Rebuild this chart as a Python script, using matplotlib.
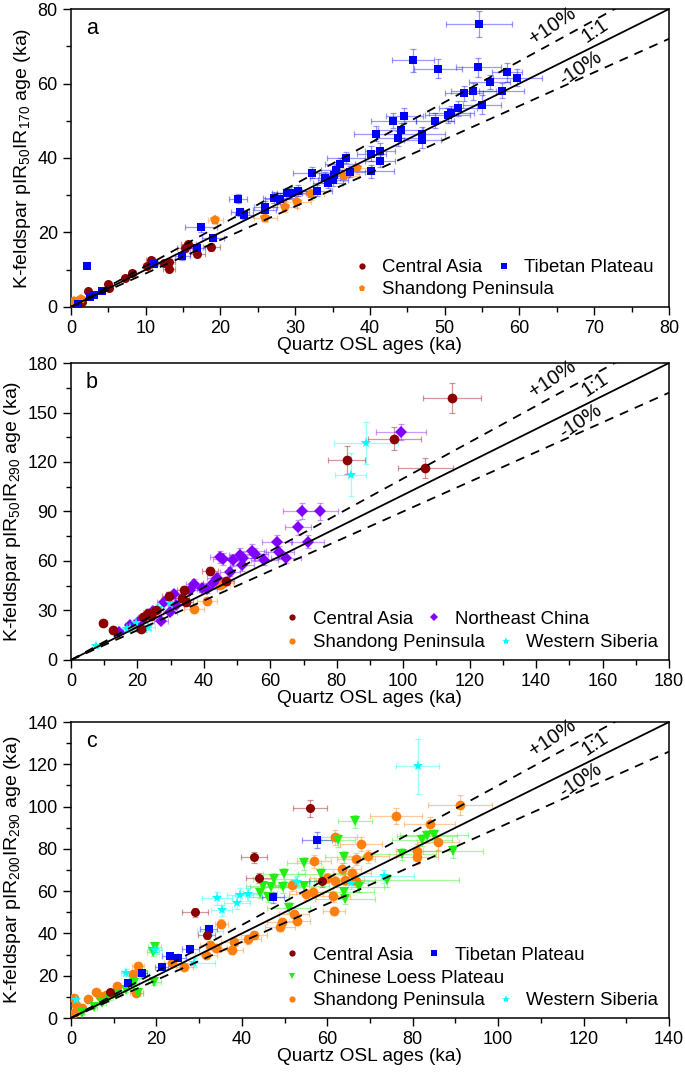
"""Quartz OSL vs K-feldspar pIRIR ages, three panels."""

import numpy as np
import matplotlib
matplotlib.use("Agg")
import matplotlib.pyplot as plt
from matplotlib.lines import Line2D
from matplotlib.ticker import MultipleLocator

plt.rcParams["font.family"] = ["Liberation Sans", "DejaVu Sans"]
plt.rcParams["mathtext.fontset"] = "custom"
plt.rcParams["mathtext.rm"] = "Liberation Sans"
plt.rcParams["mathtext.it"] = "Liberation Sans:italic"

C_CA = "#8b0000"
C_TP = "#0000ff"
C_SP = "#ff7f0e"
C_NE = "#8000ff"
C_CLP = "#22ee11"
C_WS = "#00ffff"

# ---------------- panel a: pIR50IR170 ----------------
a_tp_x = [54.6, 45.8, 49.1, 54.5, 58.3, 59.7, 56.0, 52.6, 53.8, 57.6, 55.0, 51.8, 50.9, 50.4,
          48.7, 44.6, 43.1, 44.1, 40.8, 43.8, 47.0, 47.0, 40.2, 41.4, 41.4, 40.2, 36.8, 36.0,
          37.3, 35.5, 35.2, 34.0, 34.4, 35.1, 32.2, 32.9, 30.4, 29.5, 28.9, 28.0, 27.2, 26.0,
          25.9, 22.3, 22.6, 23.2, 17.4, 19.0, 16.9, 14.9, 11.1, 2.1, 4.1, 3.1, 1.0, 2.6]
a_tp_y = [76.0, 66.2, 64.0, 64.3, 63.0, 61.6, 60.4, 57.4, 57.9, 58.1, 54.3, 53.3, 52.0, 51.5,
          50.0, 51.4, 50.0, 47.4, 46.5, 45.3, 46.4, 44.8, 41.1, 42.0, 39.2, 36.4, 40.1, 38.4,
          36.3, 36.7, 35.4, 34.7, 33.4, 34.1, 36.1, 31.2, 31.2, 30.7, 30.5, 29.1, 29.3, 26.9,
          26.0, 29.1, 25.5, 24.7, 21.4, 18.6, 15.7, 13.6, 11.4, 11.0, 4.3, 3.1, 0.7, 2.7]
a_tp_xe = [4.4, 2.8, 3.2, 3.0, 2.0, 3.3, 2.8, 2.5, 3.0, 3.0, 2.5, 2.5, 3.0, 3.0,
           2.5, 2.5, 3.0, 3.0, 3.0, 3.0, 3.0, 2.5, 2.0, 2.0, 2.0, 3.0, 2.5, 2.0,
           2.0, 2.0, 2.0, 2.0, 2.0, 2.0, 2.5, 2.0, 2.0, 2.0, 2.0, 2.0, 1.5, 1.5,
           1.5, 1.2, 1.2, 1.2, 2.2, 1.5, 1.0, 1.0, 0.8, 0.3, 0.4, 0.3, 0.2, 0.3]
a_tp_ye = [3.4, 3.0, 2.5, 2.5, 2.5, 2.2, 2.0, 2.0, 2.2, 2.0, 2.5, 2.0, 2.0, 2.0,
           2.0, 2.0, 2.0, 2.0, 2.0, 2.0, 2.0, 2.0, 2.0, 2.0, 1.5, 1.8, 1.5, 1.5,
           1.5, 1.5, 1.5, 1.5, 1.5, 1.5, 1.5, 1.5, 1.5, 1.5, 1.5, 1.5, 1.5, 1.5,
           1.2, 1.2, 1.2, 1.2, 1.2, 1.0, 1.0, 1.0, 0.8, 0.5, 0.3, 0.3, 0.2, 0.3]

a_ca_x = [18.8, 16.9, 15.7, 15.2, 13.1, 13.1, 12.4, 10.7, 10.2, 8.2, 7.2, 5.0, 5.1, 2.3, 1.5, 0.4]
a_ca_y = [16.1, 14.3, 16.8, 15.7, 10.1, 12.1, 11.8, 12.6, 11.1, 9.1, 7.8, 6.1, 5.2, 4.2, 1.3, 0.7]
a_ca_xe = [1.2, 1.0, 1.0, 1.0, 0.8, 0.8, 0.8, 0.6, 0.6, 0.5, 0.4, 0.3, 0.3, 0.2, 0.1, 0.1]
a_ca_ye = [1.0, 1.0, 1.0, 1.0, 0.8, 0.8, 0.8, 0.7, 0.7, 0.5, 0.5, 0.4, 0.4, 0.3, 0.1, 0.1]

a_sp_x = [38.3, 36.5, 32.1, 30.3, 28.6, 26.0, 19.3, 0.4, 1.4]
a_sp_y = [37.2, 35.2, 30.2, 28.2, 26.9, 24.0, 23.3, 1.6, 2.2]
a_sp_xe = [2.0, 2.0, 1.8, 1.8, 1.6, 1.5, 1.0, 0.1, 0.1]
a_sp_ye = [1.5, 1.5, 1.5, 1.5, 1.5, 1.2, 1.0, 0.1, 0.1]

# ---------------- panel b: pIR50IR290 ----------------
b_ca_x = [114.7, 97.3, 83.0, 106.7, 41.9, 46.7, 9.7, 12.6, 34.0, 33.4, 29.4, 25.7, 24.1, 21.7,
          21.2, 23.2, 34.6]
b_ca_y = [158.8, 134.1, 121.4, 116.3, 54.0, 47.9, 22.5, 18.2, 42.3, 37.4, 39.0, 30.3, 26.9, 26.3,
          18.8, 28.3, 35.4]
b_ca_xe = [8.8, 8.0, 5.5, 8.2, 2.5, 2.5, 1.0, 1.0, 2.0, 2.0, 2.0, 1.5, 1.5, 1.5,
           1.5, 1.5, 2.0]
b_ca_ye = [9.0, 7.0, 8.6, 6.0, 2.5, 2.5, 1.5, 1.2, 2.5, 2.0, 2.0, 1.8, 1.5, 1.5,
           1.2, 1.5, 2.0]

b_ne_x = [99.3, 69.4, 74.9, 68.3, 71.3, 62.0, 62.6, 64.6, 58.2, 54.6, 55.3, 51.0, 51.7, 48.9,
          44.9, 45.8, 51.5, 47.9, 44.0, 42.8, 40.9, 37.1, 35.9, 31.0, 28.0, 31.6, 27.1, 24.7,
          22.0, 17.8, 14.4, 20.2, 29.8, 39.5]
b_ne_y = [138.3, 90.2, 90.0, 80.3, 71.8, 71.6, 65.3, 62.1, 60.9, 66.1, 64.1, 63.7, 61.7, 60.5,
          62.5, 61.3, 57.6, 53.6, 49.6, 46.7, 43.1, 46.3, 42.3, 39.8, 35.4, 33.4, 23.7, 29.7,
          25.3, 21.2, 16.8, 23.3, 29.3, 43.5]
b_ne_xe = [7.5, 5.5, 5.5, 4.0, 5.0, 4.5, 4.5, 4.5, 4.0, 4.0, 4.0, 3.5, 3.5, 3.5,
           3.0, 3.0, 3.5, 3.0, 3.0, 3.0, 3.0, 2.5, 2.5, 2.5, 2.0, 2.5, 2.0, 2.0,
           1.5, 1.5, 1.2, 1.5, 2.0, 2.5]
b_ne_ye = [5.0, 5.0, 5.0, 4.5, 4.0, 4.0, 4.0, 3.5, 3.5, 4.0, 4.0, 4.0, 3.5, 3.5,
           3.5, 3.5, 3.5, 3.0, 3.0, 3.0, 2.5, 2.5, 2.5, 2.5, 2.0, 2.0, 1.5, 2.0,
           1.5, 1.5, 1.2, 1.5, 2.0, 2.5]

b_sp_x = [40.9, 37.1, 44.8, 45.7, 17.8]
b_sp_y = [35.8, 30.7, 45.5, 46.5, 20.8]
b_sp_xe = [3.0, 3.0, 3.0, 3.0, 1.5]
b_sp_ye = [2.5, 2.0, 2.5, 2.5, 1.5]

b_ws_x = [88.8, 84.2, 7.6, 22.0, 23.3, 17.8, 16.8, 19.6, 29.8, 26.2]
b_ws_y = [131.5, 112.3, 8.5, 18.8, 20.2, 19.6, 18.8, 22.2, 34.4, 31.4]
b_ws_xe = [9.7, 4.6, 0.8, 2.0, 2.0, 1.5, 1.5, 1.8, 2.5, 2.0]
b_ws_ye = [13.0, 13.0, 0.8, 2.0, 2.0, 1.8, 1.8, 2.0, 3.0, 2.5]

# ---------------- panel c: pIR200IR290 ----------------
c_ca_x = [56.0, 42.9, 44.0, 29.0, 31.8, 58.8, 9.2]
c_ca_y = [99.2, 76.0, 66.2, 50.0, 39.5, 64.7, 12.5]
c_ca_xe = [4.0, 3.0, 3.0, 3.0, 2.0, 3.0, 0.8]
c_ca_ye = [4.0, 2.5, 2.5, 2.0, 2.0, 2.5, 1.0]

c_tp_x = [57.6, 47.3, 32.3, 27.9, 23.2, 25.1, 21.2, 13.4, 16.7]
c_tp_y = [84.2, 57.1, 41.9, 32.6, 29.5, 28.5, 24.3, 16.5, 21.2]
c_tp_xe = [3.4, 2.5, 2.0, 2.0, 1.8, 1.8, 1.5, 1.0, 1.2]
c_tp_ye = [4.0, 2.5, 2.0, 1.8, 1.5, 1.5, 1.5, 1.2, 1.2]

c_clp_x = [66.4, 62.5, 63.9, 54.6, 49.9, 47.5, 58.6, 44.9, 44.3, 46.9, 49.6, 54.5, 46.1, 51.0,
           64.2, 67.4, 73.9, 77.5, 82.2, 83.3, 85.0, 89.5, 19.2, 19.6, 16.7, 14.8, 12.9, 10.6,
           7.3, 5.4, 2.6, 19.5, 15.7, 9.0, 63.9]
c_clp_y = [93.1, 84.0, 76.2, 73.1, 68.0, 65.8, 68.0, 62.4, 59.1, 61.8, 61.8, 62.4, 57.2, 52.2,
           56.3, 61.9, 65.1, 77.6, 84.2, 85.9, 86.5, 78.9, 31.4, 33.4, 20.4, 16.5, 13.3, 11.0,
           7.1, 5.2, 2.4, 17.2, 11.8, 9.4, 59.6]
c_clp_xe = [4.0, 4.0, 4.5, 4.0, 5.0, 5.0, 5.5, 4.0, 4.0, 5.0, 5.0, 6.0, 5.0, 5.0,
            7.0, 6.0, 17.0, 8.0, 7.0, 7.0, 8.0, 7.0, 1.5, 1.5, 1.5, 1.2, 1.2, 1.0,
            0.8, 0.6, 0.4, 1.5, 1.2, 0.8, 7.0]
c_clp_ye = [3.0, 3.0, 3.0, 3.0, 3.0, 3.0, 3.0, 2.5, 2.5, 2.5, 2.5, 2.5, 2.5, 2.5,
            2.5, 2.5, 3.0, 3.0, 3.0, 3.0, 3.0, 3.0, 2.0, 2.0, 1.5, 1.2, 1.2, 1.0,
            0.8, 0.6, 0.4, 1.5, 1.2, 0.8, 2.5]

c_sp_x = [91.1, 76.1, 84.0, 61.9, 67.9, 85.9, 81.0, 81.0, 69.5, 66.7, 56.9, 63.4, 65.8, 61.8,
          60.0, 64.1, 66.7, 51.7, 55.0, 56.7, 61.3, 61.6, 52.2, 53.0, 49.4, 48.9, 35.2, 42.9,
          41.5, 38.2, 37.7, 34.0, 32.6, 31.6, 26.5, 23.7, 15.7, 14.5, 10.8, 15.3, 5.9, 4.0,
          0.7, 1.2, 6.8, 8.2, 2.6, 0.6]
c_sp_y = [100.8, 95.6, 91.7, 85.4, 82.3, 83.1, 79.2, 76.0, 76.5, 75.2, 74.1, 70.5, 68.5, 64.7,
          66.2, 65.4, 64.7, 62.7, 58.5, 59.6, 57.5, 50.6, 49.1, 45.8, 45.5, 43.1, 44.7, 39.2,
          37.2, 36.1, 32.1, 33.2, 34.5, 29.8, 24.3, 25.9, 24.8, 20.8, 15.2, 11.8, 12.1, 8.9,
          9.4, 6.3, 10.2, 11.0, 4.7, 2.4]
c_sp_xe = [7.4, 6.0, 6.0, 5.0, 5.0, 5.0, 5.0, 5.0, 5.0, 4.5, 4.0, 4.5, 4.5, 4.5,
           4.0, 4.5, 4.5, 4.0, 4.0, 4.0, 4.0, 2.5, 3.5, 3.0, 3.5, 3.5, 1.5, 3.0,
           3.0, 3.0, 2.5, 2.5, 2.5, 2.5, 2.0, 2.0, 1.5, 1.5, 1.0, 1.5, 0.8, 0.6,
           0.4, 0.4, 0.8, 0.8, 0.4, 0.3]
c_sp_ye = [4.7, 3.8, 3.5, 3.5, 3.5, 3.5, 3.0, 3.0, 3.0, 3.0, 3.0, 3.0, 3.0, 2.5,
           2.5, 2.5, 2.5, 2.5, 2.5, 2.5, 2.5, 2.0, 2.0, 2.0, 2.0, 2.0, 2.0, 2.0,
           2.0, 2.0, 1.8, 1.8, 1.8, 1.5, 1.5, 1.5, 1.5, 1.2, 1.0, 1.0, 0.8, 0.6,
           0.6, 0.5, 0.8, 0.8, 0.4, 0.3]

c_ws_x = [81.2, 73.2, 65.6, 53.0, 41.5, 39.5, 34.2, 38.9, 35.3, 32.6, 28.8, 19.7, 12.9, 16.7, 1.2]
c_ws_y = [119.1, 67.1, 63.8, 64.3, 58.5, 58.3, 56.7, 54.6, 50.9, 41.2, 26.2, 32.4, 21.5, 21.5, 8.6]
c_ws_xe = [5.0, 7.0, 4.0, 3.0, 3.0, 3.0, 3.5, 3.0, 2.5, 3.0, 5.0, 1.5, 1.2, 1.2, 0.5]
c_ws_ye = [13.0, 3.0, 3.0, 3.0, 3.0, 3.0, 3.0, 3.0, 2.5, 2.5, 2.0, 2.0, 1.5, 1.5, 0.8]

LINE_LABELS = [(0.805, 0.945, "+10%"), (0.877, 0.926, "1:1"), (0.852, 0.802, "-10%")]


def group(ax, x, y, xe, ye, color, marker, ms):
    ax.errorbar(x, y, xerr=xe, yerr=ye, fmt="none", ecolor=color, alpha=0.4,
                elinewidth=0.9, capsize=2.5, capthick=0.9, zorder=2)
    ax.plot(x, y, linestyle="none", marker=marker, color=color, markersize=ms,
            markeredgewidth=0, zorder=3)


def handle(color, marker, ms):
    return Line2D([], [], linestyle="none", marker=marker, color=color, markersize=ms,
                  markeredgewidth=0)


def legend_rows(ax, rows, x0, ys):
    # one legend per row, rows start at the same x but columns are not aligned
    legs = []
    for entries, y in zip(rows, ys):
        leg = ax.legend([handle(*e[1:]) for e in entries], [e[0] for e in entries],
                        loc="center left", bbox_to_anchor=(x0, y), ncol=len(entries),
                        frameon=False, fontsize=13.4, handlelength=0.6, handletextpad=0.8,
                        columnspacing=0.85, borderpad=0, borderaxespad=0)
        legs.append(leg)
    for leg in legs[:-1]:
        ax.add_artist(leg)


def frame(ax, lim, major, minor, letter, ylabel):
    ax.plot([0, lim], [0, lim], color="black", linewidth=1.3, zorder=4)
    ax.plot([0, lim], [0, 1.1 * lim], color="black", linewidth=1.3, linestyle=(0, (5, 4)), zorder=4)
    ax.plot([0, lim], [0, 0.9 * lim], color="black", linewidth=1.3, linestyle=(0, (5, 4)), zorder=4)
    for (tx, ty, s) in LINE_LABELS:
        ax.text(tx * lim, ty * lim, s, rotation=34, ha="center", va="center",
                rotation_mode="anchor", fontsize=14.5)
    ax.set_xlim(0, lim)
    ax.set_ylim(0, lim)
    ax.xaxis.set_major_locator(MultipleLocator(major[0]))
    ax.xaxis.set_minor_locator(MultipleLocator(minor[0]))
    ax.yaxis.set_major_locator(MultipleLocator(major[1]))
    ax.yaxis.set_minor_locator(MultipleLocator(minor[1]))
    ax.tick_params(which="major", direction="out", length=6, width=1, labelsize=13)
    ax.tick_params(which="minor", direction="out", length=3.5, width=1)
    for sp in ax.spines.values():
        sp.set_linewidth(1.1)
    ax.set_xlabel("Quartz OSL ages (ka)", fontsize=13.8, labelpad=0)
    ax.set_ylabel(ylabel, fontsize=14, labelpad=3)
    ax.text(0.025, 0.935, letter, transform=ax.transAxes, fontsize=15.5, ha="left", va="center")


fig = plt.figure(figsize=(6.85, 10.74), dpi=100)
left, width = 0.1036, 0.873
ax_a = fig.add_axes([left, 0.7142, width, 0.2774])
ax_b = fig.add_axes([left, 0.3855, width, 0.2765])
ax_c = fig.add_axes([left, 0.0521, width, 0.2756])

# panel a
group(ax_a, a_ca_x, a_ca_y, a_ca_xe, a_ca_ye, C_CA, "o", 6.5)
group(ax_a, a_sp_x, a_sp_y, a_sp_xe, a_sp_ye, C_SP, "p", 7.5)
group(ax_a, a_tp_x, a_tp_y, a_tp_xe, a_tp_ye, C_TP, "s", 6)
frame(ax_a, 80, (10, 20), (5, 10), "a",
      r"K-feldspar pIR$_{\mathregular{50}}$IR$_{\mathregular{170}}$ age (ka)")
legend_rows(ax_a,
            [[("Central Asia", C_CA, "o", 4.5), ("Tibetan Plateau", C_TP, "s", 4)],
             [("Shandong Peninsula", C_SP, "p", 5)]],
            0.477, [0.132, 0.057])

# panel b
group(ax_b, b_sp_x, b_sp_y, b_sp_xe, b_sp_ye, C_SP, "o", 7)
group(ax_b, b_ne_x, b_ne_y, b_ne_xe, b_ne_ye, C_NE, "D", 6.5)
group(ax_b, b_ws_x, b_ws_y, b_ws_xe, b_ws_ye, C_WS, "*", 8)
group(ax_b, b_ca_x, b_ca_y, b_ca_xe, b_ca_ye, C_CA, "o", 7)
frame(ax_b, 180, (20, 30), (10, 15), "b",
      r"K-feldspar pIR$_{\mathregular{50}}$IR$_{\mathregular{290}}$ age (ka)")
legend_rows(ax_b,
            [[("Central Asia", C_CA, "o", 4.5), ("Northeast China", C_NE, "D", 4)],
             [("Shandong Peninsula", C_SP, "o", 4.5), ("Western Siberia", C_WS, "*", 6)]],
            0.3605, [0.137, 0.058])

# panel c
group(ax_c, c_sp_x, c_sp_y, c_sp_xe, c_sp_ye, C_SP, "o", 7)
group(ax_c, c_clp_x, c_clp_y, c_clp_xe, c_clp_ye, C_CLP, "v", 7)
group(ax_c, c_ws_x, c_ws_y, c_ws_xe, c_ws_ye, C_WS, "*", 8)
group(ax_c, c_tp_x, c_tp_y, c_tp_xe, c_tp_ye, C_TP, "s", 6)
group(ax_c, c_ca_x, c_ca_y, c_ca_xe, c_ca_ye, C_CA, "o", 6.5)
frame(ax_c, 140, (20, 20), (10, 10), "c",
      r"K-feldspar pIR$_{\mathregular{200}}$IR$_{\mathregular{290}}$ age (ka)")
legend_rows(ax_c,
            [[("Central Asia", C_CA, "o", 4.5), ("Tibetan Plateau", C_TP, "s", 4)],
             [("Chinese Loess Plateau", C_CLP, "v", 5)],
             [("Shandong Peninsula", C_SP, "o", 4.5), ("Western Siberia", C_WS, "*", 6)]],
            0.3605, [0.213, 0.134, 0.058])

fig.savefig("out.png", dpi=100, facecolor="white")
